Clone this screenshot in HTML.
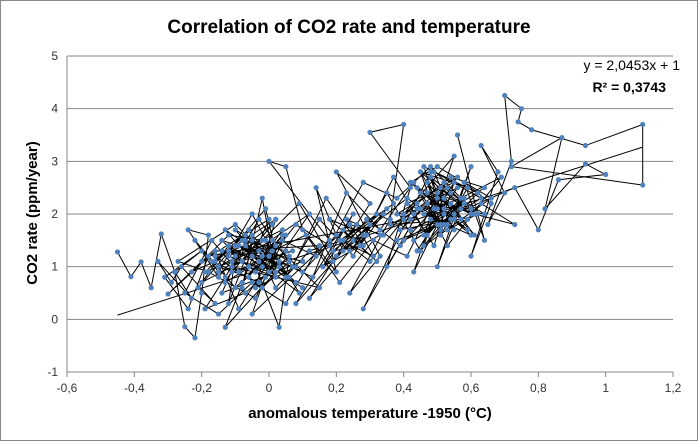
<!DOCTYPE html>
<html><head><meta charset="utf-8"><style>
html,body{margin:0;padding:0;background:#fff;}
svg{display:block;font-family:"Liberation Sans",sans-serif;}
</style></head><body>
<svg width="698" height="441" id="chart">
<rect x="0.5" y="0.5" width="697" height="440" fill="#fff" stroke="#888"/>
<text x="349" y="33" text-anchor="middle" font-size="19" font-weight="bold" fill="#000">Correlation of CO2 rate and temperature</text>
<text transform="translate(37,213) rotate(-90)" text-anchor="middle" font-size="15" font-weight="bold">CO2 rate (ppm/year)</text>
<text x="370" y="418" text-anchor="middle" font-size="15" font-weight="bold">anomalous temperature -1950 (°C)</text>
<g id="grid"></g><g id="ticks"></g><g id="lines"></g><g id="marks"></g>
<text x="680" y="70" text-anchor="end" font-size="14">y = 2,0453x + 1</text>
<text x="666" y="92" text-anchor="end" font-size="14" font-weight="bold">R² = 0,3743</text>
</svg>
<script>
const xTicks=[-0.6,-0.4,-0.2,0,0.2,0.4,0.6,0.8,1,1.2];
const yTicks=[-1,0,1,2,3,4,5];
const slope=2.0453, intercept=1, trendRange=[-0.45,1.11];
const xs=[-0.45,-0.41,-0.38,-0.35,-0.32,-0.28,-0.25,-0.22,-0.2,-0.18,-0.24,-0.15,-0.1,-0.12,-0.05,-0.08,-0.02,0.02,-0.13,-0.06,0.0,-0.2,-0.3,-0.16,-0.09,0.05,-0.04,-0.18,-0.27,-0.1,0.08,-0.03,0.1,-0.14,-0.07,0.03,0.06,-0.01,0.12,-0.11,0.15,0.02,-0.05,0.18,0.0,0.05,0.1,0.2,0.14,0.22,0.08,0.25,0.16,0.28,0.12,0.3,0.2,0.33,0.24,0.36,0.4,0.3,0.42,0.35,0.45,0.28,0.48,0.38,0.5,0.43,0.52,0.4,0.55,0.46,0.58,0.5,0.6,0.53,0.62,0.56,0.64,0.58,0.66,0.6,0.68,0.63,0.7,0.65,0.72,0.7,0.75,0.74,0.78,0.94,1.11,1.11,0.72,0.87,0.82,0.94,1.0,0.86,0.8,0.73,0.55,0.45,0.35,0.25,0.15,0.05,-0.05,-0.15,-0.22,-0.1,0.0,0.1,0.2,0.3,0.4,0.5,0.6,0.48,0.38,0.28,0.18,0.08,-0.02,-0.12,-0.2,-0.08,0.04,0.14,0.24,0.34,0.44,0.54,0.64,0.52,0.42,0.32,0.22,0.12,0.02,-0.06,-0.16,-0.23,-0.12,-0.02,0.09,0.19,0.29,0.39,0.49,0.59,0.69,0.57,0.47,0.37,0.27,0.17,0.07,-0.03,-0.13,-0.19,-0.07,0.03,0.13,0.23,0.33,0.43,0.53,0.63,0.73,0.61,0.51,0.41,0.31,0.21,0.11,0.01,-0.09,-0.17,-0.25,-0.15,-0.05,0.05,0.15,
-0.12,-0.04,0.04,-0.08,0.0,-0.14,-0.06,0.02,-0.1,0.06,-0.02,-0.16,-0.07,0.01,-0.11,0.07,-0.03,-0.13,-0.05,0.03,-0.09,0.09,-0.01,-0.15,-0.06,0.04,-0.12,0.0,-0.08,0.05,-0.03,-0.17,-0.1,0.02,-0.04,0.08,-0.14,-0.02,0.06,-0.07,-0.19,-0.11,0.01,-0.05,0.1,-0.09,-0.13,0.03,-0.01,-0.21,-0.16,-0.26,-0.29,-0.33,-0.23,-0.28,-0.2,-0.31,-0.24,-0.18,
0.42,0.5,0.46,0.56,0.44,0.52,0.48,0.58,0.4,0.54,0.47,0.6,0.45,0.51,0.57,0.43,0.49,0.55,0.41,0.53,0.62,0.46,0.5,0.59,0.44,0.52,0.48,0.56,0.38,0.54,0.61,0.47,0.51,0.45,0.57,0.43,0.63,0.49,0.55,0.39,0.53,0.58,0.46,0.6,0.42,0.5,0.66,0.44,0.52,0.48,0.57,0.36,0.54,0.64,0.47,0.51,0.59,0.45,0.55,0.41,
0.25,0.3,0.2,0.34,0.27,0.22,0.32,0.18,0.29,0.24,0.35,0.21,0.31,0.26,0.16,0.33,0.23,0.28,0.19,0.37];
const ys=[1.28,0.81,1.09,0.6,1.62,0.9,-0.14,-0.35,0.5,1.6,1.7,0.8,1.2,0.3,1.5,0.6,2.3,0.9,-0.15,1.0,1.9,1.1,0.48,1.3,0.2,1.6,0.4,0.9,1.1,1.8,0.7,1.3,1.1,0.5,1.5,-0.15,1.2,0.8,2.0,1.0,0.6,1.4,0.1,1.5,3.0,2.9,1.7,0.9,2.5,1.3,0.3,2.0,1.0,1.6,0.4,2.2,2.8,1.2,0.5,1.9,3.7,3.55,2.5,1.0,2.1,0.2,2.8,1.5,1.8,0.9,2.6,2.0,3.1,1.4,2.3,1.0,2.9,1.7,2.0,3.5,1.5,2.6,2.2,1.2,2.8,3.3,2.4,1.8,3.0,4.25,4.0,3.75,3.6,3.3,3.7,2.55,2.9,3.45,2.1,2.95,2.75,2.65,1.7,2.5,2.0,1.3,2.4,1.2,1.9,0.8,2.0,0.9,1.5,0.6,1.2,0.9,1.6,1.1,1.9,2.4,2.1,2.9,2.3,2.6,1.4,1.8,1.0,1.4,0.7,1.1,1.5,1.2,1.8,1.6,2.2,2.7,2.5,2.0,1.7,2.0,1.5,1.3,0.6,1.7,1.1,0.9,1.6,1.5,2.2,1.1,1.9,1.4,2.1,1.9,2.7,2.3,1.6,2.7,1.4,2.3,1.0,1.9,0.8,0.2,0.5,1.1,0.8,2.4,1.7,2.6,1.4,2.2,1.8,2.0,2.5,1.2,1.5,0.7,1.6,1.3,0.9,1.5,0.5,0.1,0.7,0.3,1.4,
1.3,0.9,1.6,0.7,1.2,1.5,1.0,0.8,1.7,1.1,0.6,1.2,1.4,1.8,0.9,1.3,1.1,0.7,1.6,1.0,1.4,0.5,1.5,1.0,0.8,1.7,1.2,0.9,1.5,1.3,0.7,1.1,1.4,1.9,0.6,1.0,1.3,1.2,0.8,1.6,0.9,1.1,1.5,1.2,0.6,1.4,1.7,1.0,2.1,0.6,0.3,1.0,0.7,1.1,0.4,0.9,1.3,0.8,0.2,1.2,
1.9,2.3,1.6,2.5,2.1,1.8,2.7,2.2,1.5,1.9,2.4,2.0,2.8,1.7,2.3,2.0,1.4,2.6,2.2,1.8,2.4,2.9,2.1,1.7,2.5,2.3,1.9,2.7,2.0,2.2,1.6,2.6,1.8,2.4,2.1,1.5,2.3,2.8,1.9,1.7,2.5,2.2,2.0,1.6,2.6,2.9,2.3,1.3,2.1,2.7,1.9,1.8,2.4,2.0,2.2,1.6,2.5,2.8,1.7,2.3,
1.5,1.8,1.2,2.0,1.4,1.7,1.1,1.9,1.6,1.3,2.1,1.5,1.2,1.8,1.0,1.6,1.9,1.4,1.3,2.2];
const X0=67,X1=673,Y0=372,Y1=56;
const sx=v=>X0+(v+0.6)/1.8*(X1-X0);
const sy=v=>Y0-(v+1)/6*(Y0-Y1);
const NS="http://www.w3.org/2000/svg";
function mk(t,a,p){const e=document.createElementNS(NS,t);for(const k in a)e.setAttribute(k,a[k]);document.getElementById(p).appendChild(e);return e;}
yTicks.forEach(v=>{
 const g=mk('line',{x1:X0,x2:X1,y1:sy(v),y2:sy(v),stroke:'#868686','stroke-width':1},'grid');
 
 
 const t=mk('text',{x:X0-9,y:sy(v)+4,'text-anchor':'end','font-size':12,fill:'#333'},'ticks');t.textContent=v;
 
 
});
const ax=mk('line',{x1:X0,x2:X0,y1:Y1,y2:Y0,stroke:'#868686'},'grid');


xTicks.forEach(v=>{
 const tk=mk('line',{x1:sx(v),x2:sx(v),y1:Y0,y2:Y0+5,stroke:'#868686'},'ticks');
 
 
 const t=mk('text',{x:sx(v),y:Y0+20,'text-anchor':'middle','font-size':12,fill:'#333'},'ticks');t.textContent=String(v).replace('.',',');
 
 
});
const pts=xs.map((x,i)=>sx(x)+','+sy(ys[i])).join(' ');
const pl=mk('polyline',{points:pts,fill:'none',stroke:'#000','stroke-width':1},'lines');


const tr=mk('line',{x1:sx(trendRange[0]),y1:sy(slope*trendRange[0]+intercept),x2:sx(trendRange[1]),y2:sy(slope*trendRange[1]+intercept),stroke:'#000','stroke-width':1},'lines');


xs.forEach((x,i)=>{
 const c=mk('circle',{cx:sx(x),cy:sy(ys[i]),r:2.6,fill:'#4F81BD'},'marks');
 
 
});
</script>
</body></html>
